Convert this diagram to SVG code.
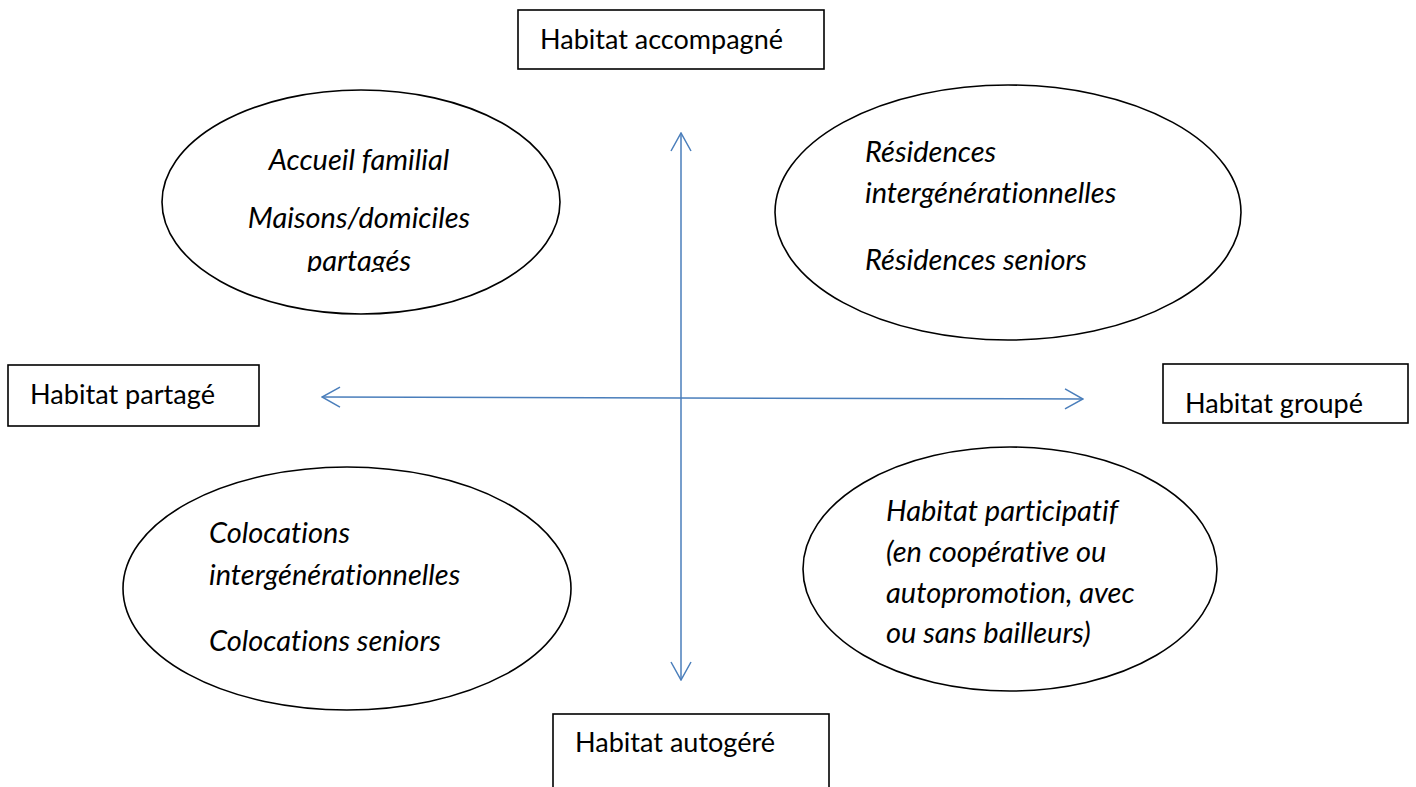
<svg xmlns="http://www.w3.org/2000/svg" width="1416" height="787" viewBox="0 0 1416 787">
  <style>
    .box { fill: #ffffff; stroke: #000000; stroke-width: 1.6; }
    .ell { fill: #ffffff; stroke: #000000; stroke-width: 1.6; }
    .lbl { font-family: "Lato", "Open Sans", "Liberation Sans", sans-serif; font-size: 27px; fill: #000000; font-variant-ligatures: none; }
    .it { font-family: "Lato", "Open Sans", "Liberation Sans", sans-serif; font-size: 29px; font-style: italic; fill: #000000; font-variant-ligatures: none; }
    .axis { stroke: #4a7ebb; stroke-width: 1.5; fill: none; }
  </style>
  <defs>
    <marker id="arrow" viewBox="0 0 20 22" refX="19" refY="11" markerWidth="20" markerHeight="22" markerUnits="userSpaceOnUse" orient="auto-start-reverse">
      <path d="M1,1 L19,11 L1,21" fill="none" stroke="#4a7ebb" stroke-width="1.5"/>
    </marker>
    <clipPath id="clipTL">
      <rect x="150" y="80" width="420" height="192"/>
    </clipPath>
  </defs>
  <rect width="1416" height="787" fill="#ffffff"/>

  <g id="connectors">
    <line class="axis" x1="681" y1="680" x2="681" y2="133" marker-start="url(#arrow)" marker-end="url(#arrow)"/>
    <line class="axis" x1="322" y1="397" x2="1083" y2="399" marker-start="url(#arrow)" marker-end="url(#arrow)"/>
  </g>

  <g id="box-accompagne">
    <rect class="box" x="518" y="10" width="306" height="59"/>
    <text class="lbl" x="540" y="49" textLength="243" lengthAdjust="spacingAndGlyphs">Habitat accompagné</text>
  </g>
  <g id="box-partage">
    <rect class="box" x="8" y="365" width="251" height="61"/>
    <text class="lbl" x="30" y="404" textLength="185" lengthAdjust="spacingAndGlyphs">Habitat partagé</text>
  </g>
  <g id="box-groupe">
    <rect class="box" x="1163" y="364" width="245" height="59"/>
    <text class="lbl" x="1185" y="413" textLength="178" lengthAdjust="spacingAndGlyphs">Habitat groupé</text>
  </g>
  <g id="box-autogere">
    <rect class="box" x="553" y="714" width="276" height="80"/>
    <text class="lbl" x="575" y="752" textLength="200" lengthAdjust="spacingAndGlyphs">Habitat autogéré</text>
  </g>

  <g id="ellipse-tl">
    <ellipse class="ell" cx="361" cy="202" rx="199" ry="112"/>
    <g clip-path="url(#clipTL)">
      <text class="it" x="359" y="170" text-anchor="middle">Accueil familial</text>
      <text class="it" x="359" y="228" text-anchor="middle">Maisons/domiciles</text>
      <text class="it" x="359" y="271" text-anchor="middle">partagés</text>
    </g>
  </g>
  <g id="ellipse-tr">
    <ellipse class="ell" cx="1008" cy="212.5" rx="233" ry="127.5"/>
    <text class="it" x="865" y="162">Résidences</text>
    <text class="it" x="865" y="203">intergénérationnelles</text>
    <text class="it" x="865" y="270">Résidences seniors</text>
  </g>
  <g id="ellipse-bl">
    <ellipse class="ell" cx="347" cy="588.5" rx="224" ry="121.5"/>
    <text class="it" x="209" y="543">Colocations</text>
    <text class="it" x="209" y="585">intergénérationnelles</text>
    <text class="it" x="209" y="651">Colocations seniors</text>
  </g>
  <g id="ellipse-br">
    <ellipse class="ell" cx="1010" cy="569" rx="207" ry="122"/>
    <text class="it" x="886" y="521">Habitat participatif</text>
    <text class="it" x="886" y="562">(en coopérative ou</text>
    <text class="it" x="886" y="603">autopromotion, avec</text>
    <text class="it" x="886" y="643">ou sans bailleurs)</text>
  </g>
</svg>
